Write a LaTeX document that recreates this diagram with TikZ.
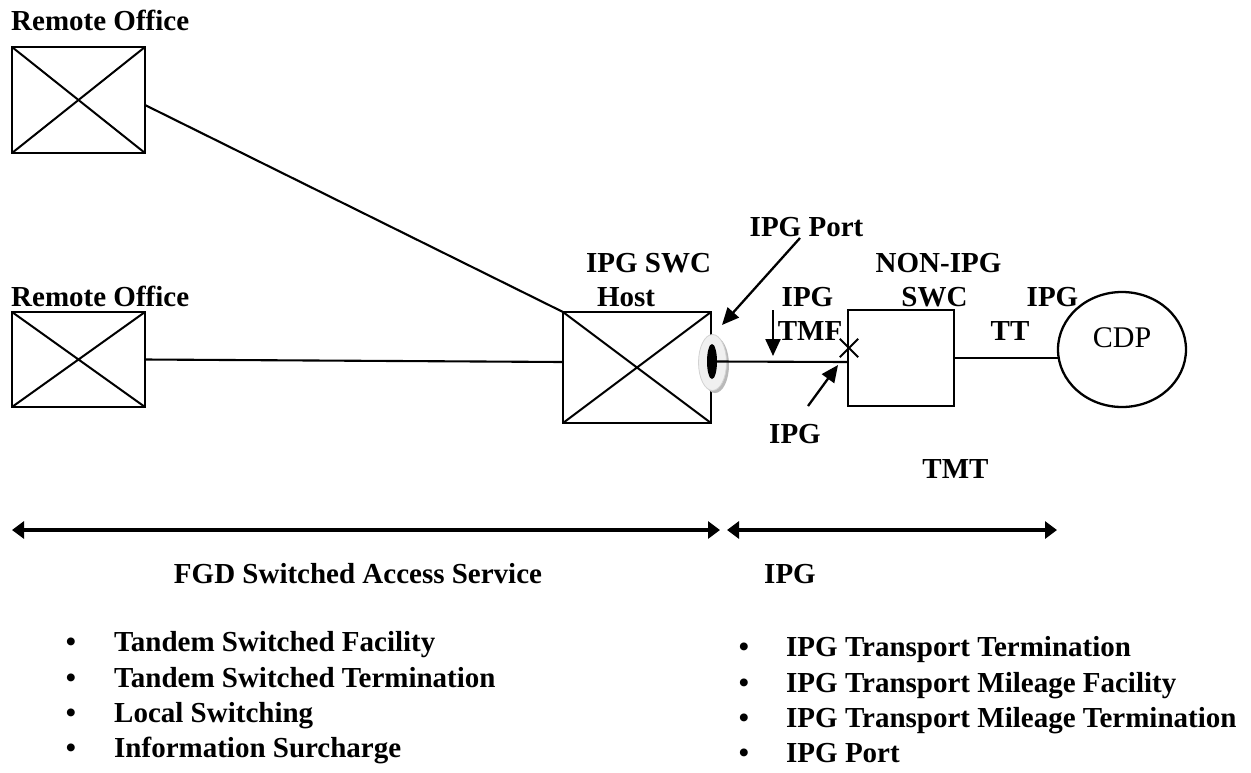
\documentclass[tikz,border=0pt]{standalone}
\usepackage{fontspec}
\setmainfont{Liberation Serif}
\usetikzlibrary{arrows.meta,shapes.geometric}
\begin{document}
\begin{tikzpicture}[x=1pt,y=-1pt,
  lbl/.style={font=\fontsize{29}{34}\selectfont\bfseries, inner sep=0pt, anchor=base},
  xbox/.style={draw, line width=2.3pt, inner sep=0pt, outer sep=0pt,
    path picture={\draw[line width=2pt] (path picture bounding box.north west) -- (path picture bounding box.south east)
      (path picture bounding box.south west) -- (path picture bounding box.north east);}},
  plainbox/.style={draw, line width=2.3pt, inner sep=0pt, outer sep=0pt},
  conn/.style={line width=2.1pt},
  ptr/.style={line width=2.3pt, -{Triangle[length=17pt,width=15pt]}},
  spanarrow/.style={line width=3.2pt, {Triangle[length=12pt,width=17pt]}-{Triangle[length=12pt,width=17pt]}},
]
\fill[white] (0,0) rectangle (1251,772);
\useasboundingbox (0,0) rectangle (1251,772);

% boxes
\node[xbox, minimum width=133pt, minimum height=106pt] (ro1) at (78.5,100) {};
\node[xbox, minimum width=133pt, minimum height=95pt] (ro2) at (78.5,359.5) {};
\node[xbox, minimum width=148pt, minimum height=111pt] (host) at (637,367.5) {};
\node[plainbox, minimum width=106pt, minimum height=96pt] (nonipg) at (901,358) {};
\node[ellipse, draw, line width=2.3pt, inner sep=0pt, outer sep=0pt, minimum width=128pt, minimum height=115pt,
  font=\fontsize{30}{34}\selectfont, text height=19pt, text depth=24pt] (cdp) at (1122,349.5) {CDP};

% port
\node[ellipse, fill=gray!55, inner sep=0pt, minimum width=28pt, minimum height=56pt] (portsh) at (715,365) {};
\node[ellipse, fill=gray!12, draw=gray!35, line width=0.8pt, inner sep=0pt, minimum width=28pt, minimum height=56pt] (port) at (712.5,362.5) {};
\node[ellipse, fill=black, inner sep=0pt, minimum width=10pt, minimum height=35pt] (portin) at (712,361.5) {};

% connectors
\draw[conn] ([yshift=-5pt]ro1.east) -- (host.north west);
\draw[conn] (ro2.east) -- ([yshift=5.5pt]host.west);
\draw[conn] (portin.east) -- ([yshift=-4pt]nonipg.west);
\draw[conn] (nonipg.east) -- (cdp.west |- nonipg.east);

% X marker
\node[inner sep=0pt, minimum size=18pt] (xm) at (849,348) {};
\draw[line width=1.8pt] (xm.north west) -- (xm.south east) (xm.south west) -- (xm.north east);

% pointer arrows
\coordinate (portTail) at (800,238);
\coordinate (portTip) at (722,325);
\draw[ptr] (portTail) -- (portTip);
\coordinate (tmfTail) at (773,310);
\coordinate (tmfTip) at (773,356);
\draw[ptr] (tmfTail) -- (tmfTip);
\coordinate (ipgTail) at (808,406);
\coordinate (ipgTip) at (838,365);
\draw[ptr] (ipgTail) -- (ipgTip);

% span arrows
\coordinate (s1) at (12,530);
\coordinate (s2) at (720,530);
\coordinate (s3) at (727,530);
\coordinate (s4) at (1057,530);
\draw[spanarrow] (s1) -- (s2);
\draw[spanarrow] (s3) -- (s4);

% labels
\node[lbl, anchor=base west] (lro1) at (11,30) {Remote Office};
\node[lbl, anchor=base west] (lro2) at (11,306) {Remote Office};
\node[lbl] (lswc) at (648.5,272) {IPG SWC};
\node[lbl] (lhost) at (626,306) {Host};
\node[lbl] (lport) at (806.5,236) {IPG Port};
\node[lbl] (ltmf1) at (807.5,306) {IPG};
\node[lbl] (ltmf2) at (810,340) {TMF};
\node[lbl] (lipg) at (795,443) {IPG};
\node[lbl] (lnon) at (938.5,272) {NON-IPG};
\node[lbl] (lnswc) at (934.5,306) {SWC};
\node[lbl] (ltt1) at (1052.5,306) {IPG};
\node[lbl] (ltt2) at (1010,340) {TT};
\node[lbl] (ltmt) at (955.5,478) {TMT};
\node[lbl] (lfgd) at (358,583) {FGD Switched Access Service};
\node[lbl] (lipgb) at (790,583) {IPG};

% left bullet list
\node[lbl] (bl1) at (71,651) {•};
\node[lbl, anchor=base west] (tl1) at (114,651) {Tandem Switched Facility};
\node[lbl] (bl2) at (71,687) {•};
\node[lbl, anchor=base west] (tl2) at (114,687) {Tandem Switched Termination};
\node[lbl] (bl3) at (71,722) {•};
\node[lbl, anchor=base west] (tl3) at (114,722) {Local Switching};
\node[lbl] (bl4) at (71,757) {•};
\node[lbl, anchor=base west] (tl4) at (114,757) {Information Surcharge};

% right bullet list
\node[lbl] (br1) at (744,656) {•};
\node[lbl, anchor=base west] (tr1) at (786,656) {IPG Transport Termination};
\node[lbl] (br2) at (744,692) {•};
\node[lbl, anchor=base west] (tr2) at (786,692) {IPG Transport Mileage Facility};
\node[lbl] (br3) at (744,727) {•};
\node[lbl, anchor=base west] (tr3) at (786,727) {IPG Transport Mileage Termination};
\node[lbl] (br4) at (744,762) {•};
\node[lbl, anchor=base west] (tr4) at (786,762) {IPG Port};
\end{tikzpicture}
\end{document}
